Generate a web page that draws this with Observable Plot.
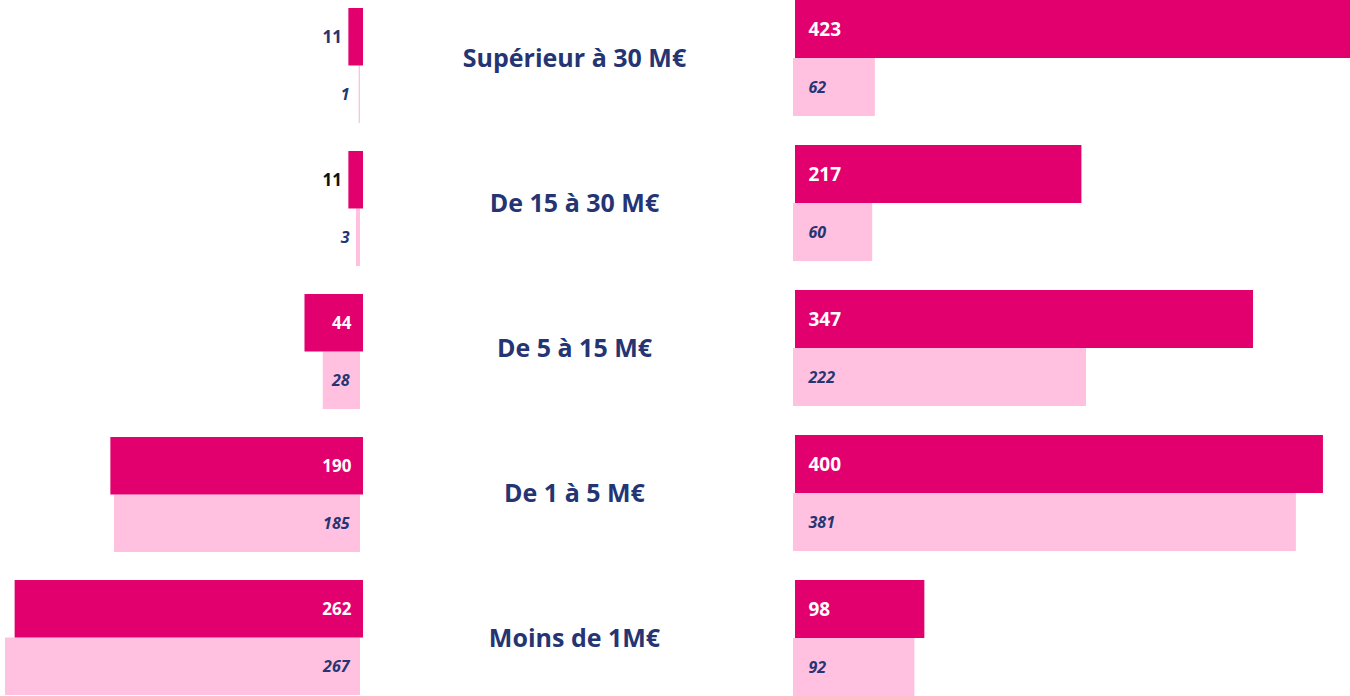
<!DOCTYPE html>
<html>
<head>
<meta charset="utf-8">
<script src="https://cdn.jsdelivr.net/npm/d3@7"></script>
<script src="https://cdn.jsdelivr.net/npm/@observablehq/plot@0.6"></script>
<style>
  html, body { margin: 0; padding: 0; background: #fff; overflow: hidden; }
  #wrap { display: flex; width: 1350px; height: 696px; }
  #wrap svg { display: block; max-width: none; }
</style>
</head>
<body>
<div id="wrap"></div>
<script>
const categories = ["Supérieur à 30 M€", "De 15 à 30 M€", "De 5 à 15 M€", "De 1 à 5 M€", "Moins de 1M€"];
const series = ["n", "n-1"];
const leftDark = [11, 11, 44, 190, 262];
const leftLight = [1, 3, 28, 185, 267];
const rightDark = [423, 217, 347, 400, 98];
const rightLight = [62, 60, 222, 381, 92];

const DARK = "#E2006F";
const LIGHT = "#FFC1DF";
const NAVY = "#253574";
const FONT = "'Open Sans', sans-serif";

function rowsOf(a, b) {
  const r = [];
  categories.forEach((c, i) => {
    r.push({cat: c, series: series[0], value: a[i]});
    r.push({cat: c, series: series[1], value: b[i]});
  });
  return r;
}
const leftRows = rowsOf(leftDark, leftLight);
const rightRows = rowsOf(rightDark, rightLight);
const catRows = categories.map(c => ({cat: c}));

const isDark = d => d.series === series[0];
const isLight = d => d.series === series[1];

const fyLeft = {domain: categories, paddingInner: 0.196, paddingOuter: 0, round: false, axis: null};
const fyRight = {domain: categories, paddingInner: 0.2, paddingOuter: 0, round: false, axis: null};
const yOpts = {domain: series, padding: 0, round: false, axis: null};

const left = Plot.plot({
  width: 380, height: 696,
  marginTop: 8, marginBottom: 1, marginLeft: 0, marginRight: 17,
  style: {fontFamily: FONT, background: "transparent"},
  facet: {data: leftRows, y: "cat", marginTop: 0, marginBottom: 0, marginLeft: 0, marginRight: 0},
  fy: fyLeft,
  y: yOpts,
  x: {domain: [0, 273], reverse: true, axis: null},
  marks: [
    Plot.barX(leftRows, {filter: isLight, x: "value", y: "series", fill: LIGHT, dx: -3}),
    Plot.barX(leftRows, {filter: isDark, x: "value", y: "series", fill: DARK}),
    Plot.text(leftRows, {filter: d => isDark(d) && d.value >= 30, x: 0, y: "series", text: d => String(d.value),
      textAnchor: "end", dx: -12, fill: "white", fontWeight: "bold", fontSize: 17}),
    Plot.text(leftRows, {filter: d => isDark(d) && d.value < 30, x: "value", y: "series", text: d => String(d.value),
      textAnchor: "end", dx: -7, fill: d => d.cat === categories[1] ? "#111" : NAVY, fontWeight: "bold", fontSize: 17}),
    Plot.text(leftRows, {filter: isLight, x: 0, y: "series", text: d => String(d.value),
      textAnchor: "end", dx: -14, fill: NAVY, fontWeight: "bold", fontStyle: "italic", fontSize: 16})
  ]
});

const center = Plot.plot({
  width: 388, height: 696,
  marginTop: 0, marginBottom: -1, marginLeft: 0, marginRight: 0,
  style: {fontFamily: FONT, background: "transparent"},
  facet: {data: catRows, y: "cat", marginTop: 0, marginBottom: 0, marginLeft: 0, marginRight: 0},
  fy: fyRight,
  marks: [
    Plot.text(catRows, {text: "cat", frameAnchor: "middle", fill: NAVY, fontWeight: "bold", fontSize: 25})
  ]
});

const right = Plot.plot({
  width: 582, height: 696,
  marginTop: 0, marginBottom: -1, marginLeft: 27, marginRight: 0,
  style: {fontFamily: FONT, background: "transparent"},
  facet: {data: rightRows, y: "cat", marginTop: 0, marginBottom: 0, marginLeft: 0, marginRight: 0},
  fy: fyRight,
  y: yOpts,
  x: {domain: [0, 420.5], axis: null},
  marks: [
    Plot.barX(rightRows, {filter: isLight, x: "value", y: "series", fill: LIGHT, dx: -2}),
    Plot.barX(rightRows, {filter: isDark, x: d => Math.min(d.value, 420.5), y: "series", fill: DARK}),
    Plot.text(rightRows, {filter: isDark, x: 0, y: "series", text: d => String(d.value),
      textAnchor: "start", dx: 13, fill: "white", fontWeight: "bold", fontSize: 19}),
    Plot.text(rightRows, {filter: isLight, x: 0, y: "series", text: d => String(d.value),
      textAnchor: "start", dx: 13, fill: NAVY, fontWeight: "bold", fontStyle: "italic", fontSize: 16})
  ]
});

const wrap = document.getElementById("wrap");
wrap.append(left, center, right);
</script>
</body>
</html>
